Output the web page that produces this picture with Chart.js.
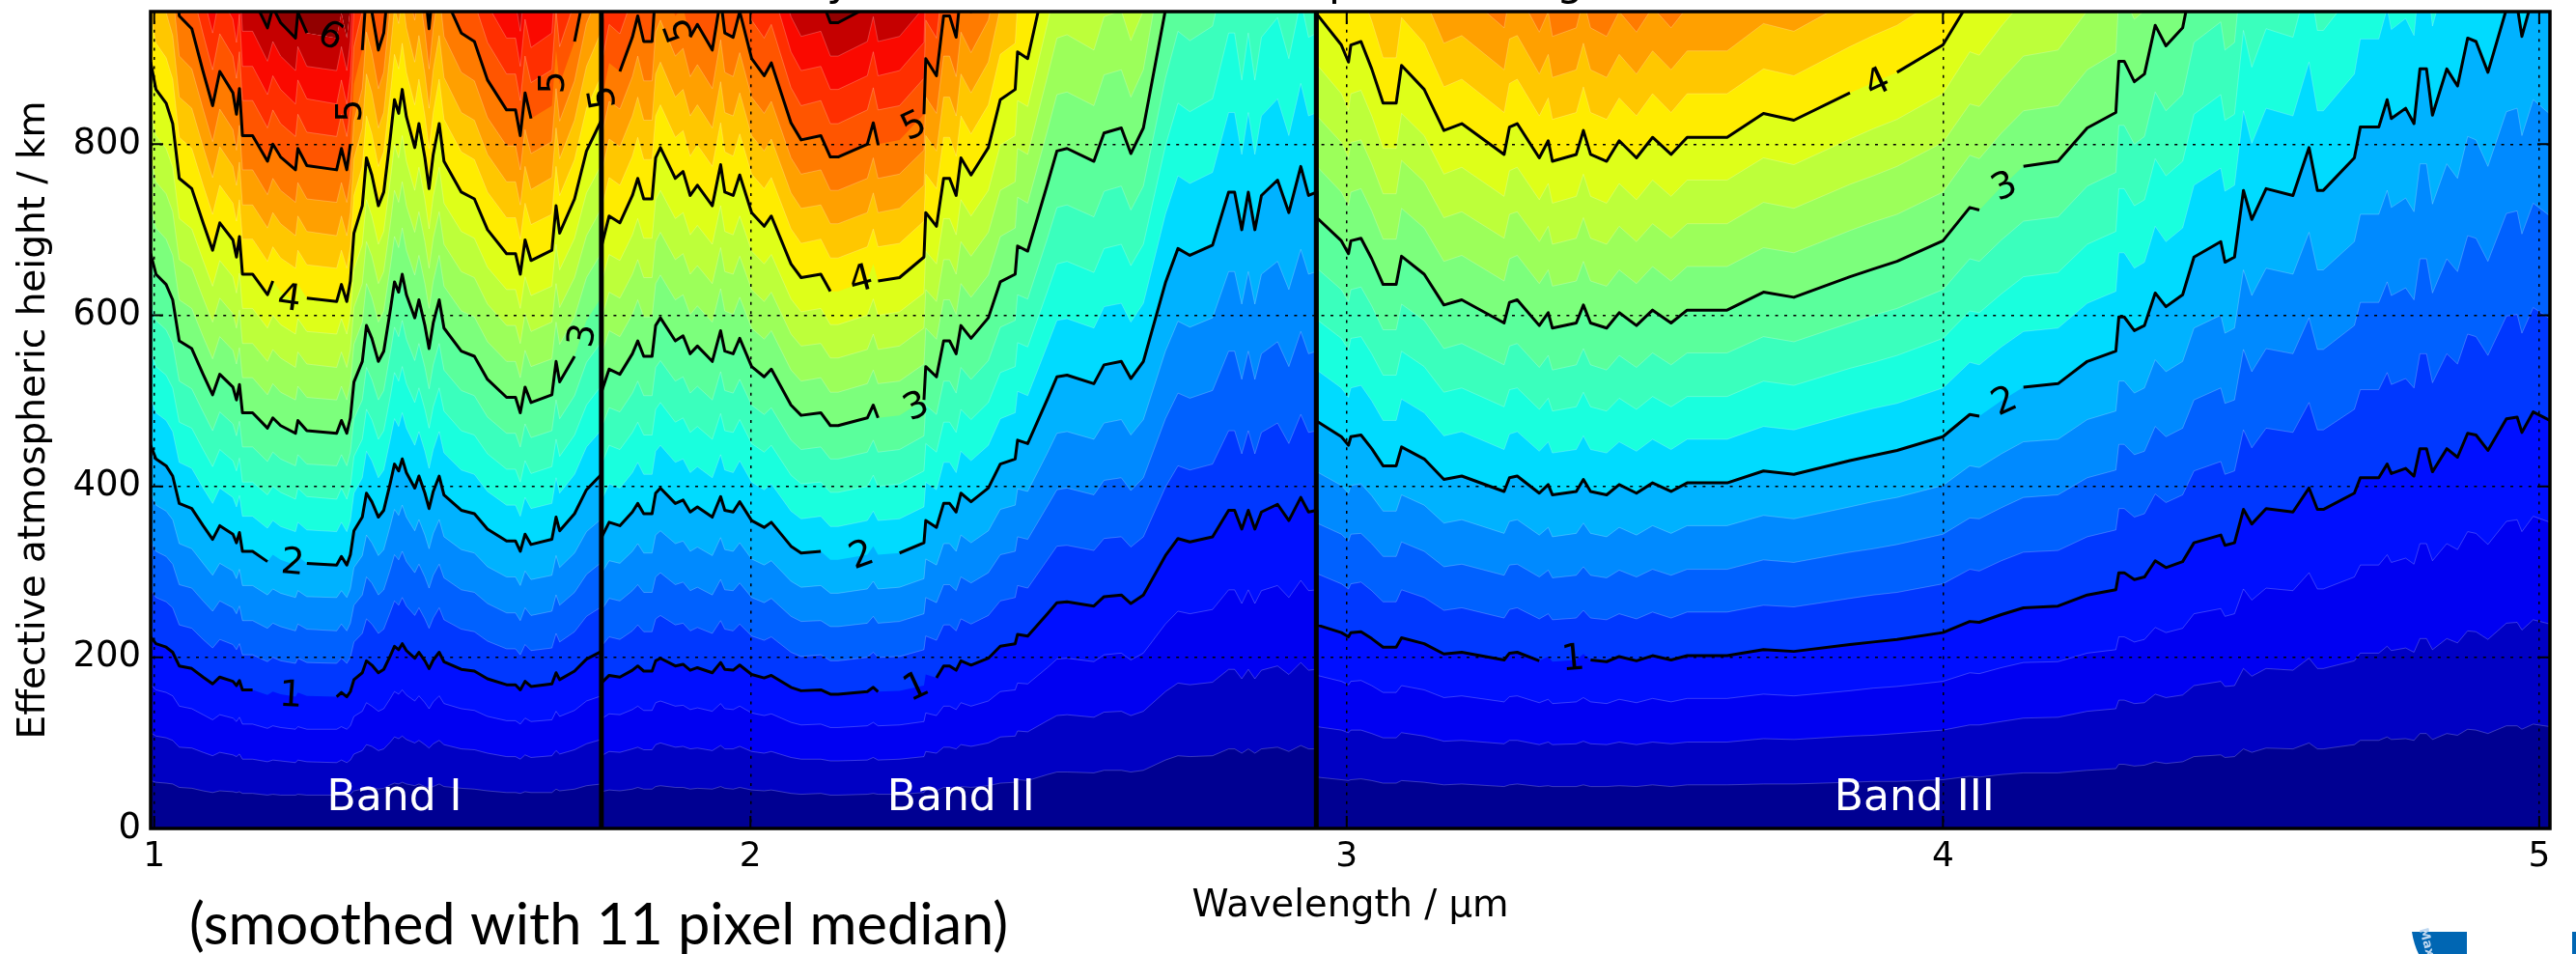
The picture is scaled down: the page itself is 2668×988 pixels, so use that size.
<!DOCTYPE html>
<html>
<head>
<meta charset="utf-8">
<title>Effective atmospheric height</title>
<script src="https://cdn.jsdelivr.net/npm/chart.js@4"></script>
<style>
html, body { margin: 0; padding: 0; background: #fff; }
canvas { display: block; }
</style>
</head>
<body>
<canvas id="grafica" width="2668" height="988"></canvas>
<script>
// wavelength in um, every contour below is read on these same columns
const wavelength = [
0.994,1.003,1.020,1.031,1.042,1.063,1.082,1.098,1.110,1.132,1.138,1.143,1.148,1.165,1.190,1.199,1.212,1.237,1.241,1.256,
1.306,1.314,1.323,1.329,1.335,1.349,1.356,1.365,1.376,1.385,1.396,1.403,1.410,1.416,1.423,1.437,1.444,1.454,1.461,1.468,
1.478,1.486,1.515,1.537,1.559,1.591,1.606,1.614,1.622,1.632,1.667,1.674,1.680,1.705,1.725,1.750,1.750,1.763,1.781,1.802,
1.811,1.821,1.835,1.841,1.849,1.874,1.887,1.899,1.911,1.936,1.950,1.957,1.971,1.982,2.002,2.023,2.035,2.068,2.085,2.118,
2.134,2.147,2.196,2.206,2.214,2.250,2.291,2.294,2.312,2.324,2.334,2.345,2.353,2.370,2.399,2.419,2.444,2.448,2.465,2.498,
2.514,2.531,2.576,2.593,2.622,2.638,2.659,2.696,2.717,2.737,2.775,2.802,2.812,2.824,2.835,2.846,2.857,2.884,2.903,2.923,
2.936,2.950,2.950,2.991,3.003,3.007,3.024,3.042,3.061,3.083,3.092,3.130,3.163,3.193,3.264,3.273,3.286,3.323,3.338,3.345,
3.385,3.397,3.409,3.436,3.457,3.486,3.513,3.544,3.571,3.638,3.699,3.750,3.844,3.883,3.923,4.000,4.045,4.061,4.098,4.135,4.193,4.242,
4.290,4.295,4.304,4.321,4.338,4.356,4.374,4.402,4.421,4.466,4.473,4.489,4.504,4.518,4.542,4.587,4.614,4.628,4.638,4.690,
4.700,4.731,4.745,4.752,4.776,4.790,4.800,4.811,4.821,4.845,4.863,4.880,4.894,4.914,4.945,4.963,4.971,4.990,5.018];

// height in km of each contour, 1200 = off the top of the plot
const h025 = [
56,54,53,52,48,47,44,42,44,43,42,43,41,41,39,40,39,39,40,39,
39,40,39,40,44,46,49,48,46,47,51,53,52,54,52,50,52,49,47,49,
52,49,47,46,44,42,42,41,43,42,42,46,44,46,50,52,43,45,44,46,
48,46,46,49,50,48,48,46,47,46,49,47,46,48,45,44,45,41,40,41,
39,39,40,41,40,40,42,45,44,48,48,46,49,48,50,53,54,57,56,63,
66,66,65,68,68,66,68,80,85,84,85,93,93,88,93,88,93,95,90,97,
93,93,60,57,56,57,58,56,53,53,56,54,51,52,49,51,52,49,50,49,
49,51,49,49,50,49,51,49,51,51,52,52,54,55,55,57,61,60,63,65,65,68,
70,75,75,73,74,78,76,78,84,86,83,84,93,89,94,93,100,93,93,98,
103,103,107,104,105,103,111,111,104,111,109,116,115,111,120,120,116,122,119];
const h050 = [
112,108,106,103,95,94,89,85,89,86,84,87,81,81,78,80,79,77,80,78,
77,80,77,80,87,91,98,96,91,93,101,107,105,108,104,100,103,98,94,99,
103,98,93,92,88,84,84,81,86,83,85,91,87,92,99,104,85,90,89,93,
95,92,92,98,100,95,96,93,94,91,97,93,93,96,90,88,90,83,81,81,
79,79,80,83,80,81,84,90,88,95,95,93,98,96,100,107,108,114,113,126,
132,133,130,136,137,132,137,160,170,168,171,186,186,175,186,175,185,190,180,194,
185,186,119,115,112,115,115,111,106,106,112,108,102,103,99,103,103,98,101,98,
99,102,99,98,101,98,101,99,101,101,105,104,108,109,111,115,121,121,125,129,130,137,
140,150,150,146,147,157,153,156,167,172,166,167,187,178,187,185,199,187,187,196,
205,205,213,208,211,206,222,222,209,222,217,231,230,221,240,241,232,244,239];
const h075 = [
168,162,159,155,143,140,133,127,133,129,125,130,122,122,117,120,118,116,119,116,
116,119,116,120,131,137,147,143,137,140,152,160,157,162,156,149,155,147,140,148,
155,146,140,138,131,126,126,122,129,125,127,137,131,138,149,155,128,134,133,139,
143,138,138,147,149,143,144,139,141,137,146,140,139,143,135,132,134,124,121,122,
118,118,120,124,120,121,125,135,132,143,143,139,147,143,149,160,162,170,169,188,
198,199,195,203,205,197,205,239,254,251,256,279,279,263,279,263,278,284,270,290,
278,279,179,172,168,172,173,167,159,159,167,162,153,155,148,154,155,147,151,146,
148,153,148,146,151,147,152,148,152,152,157,155,161,164,166,172,182,181,188,194,195,205,
209,224,224,218,221,235,229,234,251,257,248,251,280,267,281,278,299,280,280,294,
308,308,320,311,316,309,333,333,313,333,326,347,345,332,359,361,347,365,358];
const h100 = [
224,216,212,206,190,187,177,169,177,172,167,173,162,162,156,160,157,154,159,155,
154,159,154,160,174,182,196,191,182,186,202,213,209,216,208,199,206,196,187,197,
206,195,186,184,175,168,168,162,172,166,169,182,174,184,198,207,170,179,177,185,
190,184,184,196,199,190,192,185,188,182,194,186,185,191,180,176,179,165,161,162,
157,157,160,165,160,161,167,180,176,190,190,185,196,191,199,213,216,227,225,251,
264,265,260,271,273,263,273,319,339,335,341,372,372,350,372,350,370,379,360,387,
370,372,238,229,224,229,230,222,212,212,223,216,204,206,197,205,206,196,201,195,
197,204,197,195,201,196,202,197,202,202,209,207,215,218,221,229,242,241,250,258,260,273,
279,299,299,291,294,313,305,312,334,343,331,334,373,356,374,370,398,373,373,392,
410,410,426,415,421,412,444,444,417,444,434,462,460,442,479,481,463,487,477];
const h125 = [
280,270,265,258,238,234,221,211,221,215,209,216,203,203,195,200,196,193,199,194,
193,199,193,200,218,228,245,239,228,233,253,266,261,270,260,249,258,245,234,246,
258,244,233,230,219,210,210,203,215,208,211,228,218,230,248,259,213,224,221,231,
238,230,230,245,249,238,240,231,235,228,243,233,231,239,225,220,224,206,201,203,
196,196,200,206,200,201,209,225,220,238,238,231,245,239,249,266,270,284,281,314,
330,331,325,339,341,329,341,399,424,419,426,465,465,438,465,438,463,474,450,484,
463,465,298,286,280,286,288,278,265,265,279,270,255,258,246,256,258,245,251,244,
246,255,246,244,251,245,253,246,253,253,261,259,269,273,276,286,303,301,313,323,325,341,
349,374,374,364,368,391,381,390,418,429,414,418,466,445,468,463,498,466,466,490,
513,513,533,519,526,515,555,555,521,555,543,578,575,553,599,601,579,609,596];
const h150 = [
336,324,318,309,285,281,266,254,266,258,251,260,243,243,234,240,236,231,239,233,
231,239,231,240,261,273,294,287,273,279,303,320,314,324,312,299,309,294,281,296,
309,293,279,276,263,252,252,243,258,249,254,273,261,276,297,311,255,269,266,278,
285,276,276,294,299,285,288,278,282,273,291,279,278,287,270,264,269,248,242,243,
236,236,240,248,240,242,251,270,264,285,285,278,294,287,299,320,324,341,338,377,
396,398,390,407,410,395,410,479,509,503,512,558,558,525,558,525,555,569,540,581,
555,558,357,344,336,344,345,333,318,318,335,324,306,309,296,308,309,294,302,293,
296,306,296,293,302,294,303,296,303,303,314,311,323,327,332,344,363,362,375,387,390,410,
419,449,449,437,441,470,458,468,501,515,497,501,560,534,561,555,597,560,560,588,
615,615,639,623,632,618,666,666,626,666,651,693,690,663,719,722,695,731,716];
const h175 = [
392,378,371,361,333,327,310,296,310,301,292,303,284,284,273,280,275,270,278,271,
270,278,270,280,305,319,343,334,319,326,354,373,366,378,364,348,361,343,327,345,
361,341,326,322,306,294,294,284,301,291,296,319,305,322,347,362,298,313,310,324,
333,322,322,343,348,333,336,324,329,319,340,326,324,334,315,308,313,289,282,284,
275,275,280,289,280,282,292,315,308,333,333,324,343,334,348,373,378,397,394,439,
462,464,455,474,478,460,478,558,593,586,597,651,651,613,651,613,648,663,630,677,
648,651,417,401,392,401,403,389,371,371,390,378,357,361,345,359,361,343,352,341,
345,357,345,341,352,343,354,345,354,354,366,362,376,382,387,401,424,422,438,452,455,478,
488,523,523,509,515,548,534,546,585,600,579,585,653,623,655,648,697,653,653,686,
718,718,746,726,737,721,777,777,730,777,760,809,805,774,838,842,810,852,835];
const h200 = [
448,432,424,412,380,374,354,338,354,344,334,346,324,324,312,320,314,308,318,310,
308,318,308,320,348,364,392,382,364,372,404,426,418,432,416,398,412,392,374,394,
412,390,372,368,350,336,336,324,344,332,338,364,348,368,396,414,340,358,354,370,
380,368,368,392,398,380,384,370,376,364,388,372,370,382,360,352,358,330,322,324,
314,314,320,330,320,322,334,360,352,380,380,370,392,382,398,426,432,454,450,502,
528,530,520,542,546,526,546,638,678,670,682,744,744,700,744,700,740,758,720,774,
740,744,476,458,448,458,460,444,424,424,446,432,408,412,394,410,412,392,402,390,
394,408,394,390,402,392,404,394,404,404,418,414,430,436,442,458,484,482,500,516,520,546,
558,598,598,582,588,626,610,624,668,686,662,668,746,712,748,740,796,746,746,784,
820,820,852,830,842,824,888,888,834,888,868,924,920,884,958,962,926,974,954];
const h225 = [
504,486,477,464,428,421,398,380,398,387,376,389,365,365,351,360,353,347,358,349,
347,358,347,360,392,410,441,430,410,419,455,479,470,486,468,448,464,441,421,443,
464,439,419,414,394,378,378,365,387,374,380,410,392,414,446,466,383,403,398,416,
428,414,414,441,448,428,432,416,423,410,437,419,416,430,405,396,403,371,362,365,
353,353,360,371,360,362,376,405,396,428,428,416,441,430,448,479,486,511,506,565,
594,596,585,610,614,592,614,718,763,754,767,837,837,788,837,788,833,853,810,871,
833,837,536,515,504,515,518,500,477,477,502,486,459,464,443,461,464,441,452,439,
443,459,443,439,452,441,455,443,455,455,470,466,484,491,497,515,545,542,563,581,585,614,
628,673,673,655,662,704,686,702,752,772,745,752,839,801,842,833,896,839,839,882,
923,923,959,934,947,927,999,999,938,999,977,1040,1035,995,1078,1082,1042,1096,1073];
const h250 = [
560,540,530,515,475,468,443,423,443,430,418,433,405,405,390,400,393,385,398,388,
385,398,385,400,435,455,490,478,455,465,505,533,523,540,520,498,515,490,468,493,
515,488,465,460,438,420,420,405,430,415,423,455,435,460,495,518,425,448,443,463,
475,460,460,490,498,475,480,463,470,455,485,465,463,478,450,440,448,413,403,405,
393,393,400,413,400,403,418,450,440,475,475,463,490,478,498,533,540,568,563,628,
660,663,650,678,683,658,683,798,848,838,853,930,930,875,930,875,925,948,900,968,
925,930,595,573,560,573,575,555,530,530,558,540,510,515,493,513,515,490,503,488,
493,510,493,488,503,490,505,493,505,505,523,518,538,545,553,573,605,603,625,645,650,683,
698,748,748,728,735,783,763,780,835,858,828,835,933,890,935,925,995,933,933,980,
1025,1025,1065,1038,1053,1030,1110,1110,1043,1110,1085,1155,1150,1105,1198,1200,1158,1200,1193];
const h275 = [
616,594,583,567,523,514,487,465,487,473,459,476,446,446,429,440,432,424,437,426,
424,437,424,440,479,501,539,525,501,512,556,586,575,594,572,547,567,539,514,542,
567,536,512,506,481,462,462,446,473,457,465,501,479,506,545,569,468,492,487,509,
523,506,506,539,547,523,528,509,517,501,534,512,509,525,495,484,492,454,443,446,
432,432,440,454,440,443,459,495,484,523,523,509,539,525,547,586,594,624,619,690,
726,729,715,745,751,723,751,877,932,921,938,1023,1023,963,1023,963,1018,1042,990,1064,
1018,1023,655,630,616,630,633,611,583,583,613,594,561,567,542,564,567,539,553,536,
542,561,542,536,553,539,556,542,556,556,575,569,591,600,608,630,666,663,688,710,715,751,
767,822,822,800,809,861,839,858,919,943,910,919,1026,979,1029,1018,1095,1026,1026,1078,
1128,1128,1172,1141,1158,1133,1200,1200,1147,1200,1194,1200,1200,1200,1200,1200,1200,1200,1200];
const h300 = [
672,648,636,618,570,561,531,507,531,516,501,519,486,486,468,480,471,462,477,465,
462,477,462,480,522,546,588,573,546,558,606,639,627,648,624,597,618,588,561,591,
618,585,558,552,525,504,504,486,516,498,507,546,522,552,594,621,510,537,531,555,
570,552,552,588,597,570,576,555,564,546,582,558,555,573,540,528,537,495,483,486,
471,471,480,495,480,483,501,540,528,570,570,555,588,573,597,639,648,681,675,753,
792,795,780,813,819,789,819,957,1017,1005,1023,1116,1116,1050,1116,1050,1110,1137,1080,1161,
1110,1116,714,687,672,687,690,666,636,636,669,648,612,618,591,615,618,588,603,585,
591,612,591,585,603,588,606,591,606,606,627,621,645,654,663,687,726,723,750,774,780,819,
837,897,897,873,882,939,915,936,1002,1029,993,1002,1119,1068,1122,1110,1194,1119,1119,1176,
1200,1200,1200,1200,1200,1200,1200,1200,1200,1200,1200,1200,1200,1200,1200,1200,1200,1200,1200];
const h325 = [
728,702,689,670,618,608,575,549,575,559,543,562,527,527,507,520,510,501,517,504,
501,517,501,520,566,592,637,621,592,605,657,692,679,702,676,647,670,637,608,640,
670,634,605,598,569,546,546,527,559,540,549,592,566,598,644,673,553,582,575,601,
618,598,598,637,647,618,624,601,611,592,631,605,601,621,585,572,582,536,523,527,
510,510,520,536,520,523,543,585,572,618,618,601,637,621,647,692,702,738,731,816,
858,861,845,881,887,855,887,1037,1102,1089,1108,1200,1200,1138,1200,1138,1200,1200,1170,1200,
1200,1200,774,744,728,744,748,722,689,689,725,702,663,670,640,666,670,637,653,634,
640,663,640,634,653,637,657,640,657,657,679,673,699,709,718,744,787,783,813,839,845,887,
907,972,972,946,956,1017,991,1014,1086,1115,1076,1086,1200,1157,1200,1200,1200,1200,1200,1200,
1200,1200,1200,1200,1200,1200,1200,1200,1200,1200,1200,1200,1200,1200,1200,1200,1200,1200,1200];
const h350 = [
784,756,742,721,665,655,620,592,620,602,585,606,567,567,546,560,550,539,557,543,
539,557,539,560,609,637,686,669,637,651,707,746,732,756,728,697,721,686,655,690,
721,683,651,644,613,588,588,567,602,581,592,637,609,644,693,725,595,627,620,648,
665,644,644,686,697,665,672,648,658,637,679,651,648,669,630,616,627,578,564,567,
550,550,560,578,560,564,585,630,616,665,665,648,686,669,697,746,756,795,788,879,
924,928,910,949,956,921,956,1117,1187,1173,1194,1200,1200,1200,1200,1200,1200,1200,1200,1200,
1200,1200,833,802,784,802,805,777,742,742,781,756,714,721,690,718,721,686,704,683,
690,714,690,683,704,686,707,690,707,707,732,725,753,763,774,802,847,844,875,903,910,956,
977,1047,1047,1019,1029,1096,1068,1092,1169,1200,1159,1169,1200,1200,1200,1200,1200,1200,1200,1200,
1200,1200,1200,1200,1200,1200,1200,1200,1200,1200,1200,1200,1200,1200,1200,1200,1200,1200,1200];
const h375 = [
840,810,795,773,713,701,664,634,664,645,626,649,608,608,585,600,589,578,596,581,
578,596,578,600,653,683,735,716,683,698,758,799,784,810,780,746,773,735,701,739,
773,731,698,690,656,630,630,608,645,623,634,683,653,690,743,776,638,671,664,694,
713,690,690,735,746,713,720,694,705,683,728,698,694,716,675,660,671,619,604,608,
589,589,600,619,600,604,626,675,660,713,713,694,735,716,746,799,810,851,844,941,
990,994,975,1016,1024,986,1024,1196,1200,1200,1200,1200,1200,1200,1200,1200,1200,1200,1200,1200,
1200,1200,893,859,840,859,863,833,795,795,836,810,765,773,739,769,773,735,754,731,
739,765,739,731,754,735,758,739,758,758,784,776,806,818,829,859,908,904,938,968,975,1024,
1046,1121,1121,1091,1103,1174,1144,1170,1200,1200,1200,1200,1200,1200,1200,1200,1200,1200,1200,1200,
1200,1200,1200,1200,1200,1200,1200,1200,1200,1200,1200,1200,1200,1200,1200,1200,1200,1200,1200];
const h400 = [
896,864,848,824,760,748,708,676,708,688,668,692,648,648,624,640,628,616,636,620,
616,636,616,640,696,728,784,764,728,744,808,852,836,864,832,796,824,784,748,788,
824,780,744,736,700,672,672,648,688,664,676,728,696,736,792,828,680,716,708,740,
760,736,736,784,796,760,768,740,752,728,776,744,740,764,720,704,716,660,644,648,
628,628,640,660,640,644,668,720,704,760,760,740,784,764,796,852,864,908,900,1004,
1056,1060,1040,1084,1092,1052,1092,1200,1200,1200,1200,1200,1200,1200,1200,1200,1200,1200,1200,1200,
1200,1200,952,916,896,916,920,888,848,848,892,864,816,824,788,820,824,784,804,780,
788,816,788,780,804,784,808,788,808,808,836,828,860,872,884,916,968,964,1000,1032,1040,1092,
1116,1196,1196,1164,1176,1200,1200,1200,1200,1200,1200,1200,1200,1200,1200,1200,1200,1200,1200,1200,
1200,1200,1200,1200,1200,1200,1200,1200,1200,1200,1200,1200,1200,1200,1200,1200,1200,1200,1200];
const h425 = [
952,918,901,876,808,795,752,718,752,731,710,735,689,689,663,680,667,655,676,659,
655,676,655,680,740,774,833,812,774,791,859,905,888,918,884,846,876,833,795,837,
876,829,791,782,744,714,714,689,731,706,718,774,740,782,842,880,723,761,752,786,
808,782,782,833,846,808,816,786,799,774,825,791,786,812,765,748,761,701,684,689,
667,667,680,701,680,684,710,765,748,808,808,786,833,812,846,905,918,965,956,1067,
1122,1126,1105,1152,1160,1118,1160,1200,1200,1200,1200,1200,1200,1200,1200,1200,1200,1200,1200,1200,
1200,1200,1012,973,952,973,978,944,901,901,948,918,867,876,837,871,876,833,854,829,
837,867,837,829,854,833,859,837,859,859,888,880,914,927,939,973,1029,1024,1063,1097,1105,1160,
1186,1200,1200,1200,1200,1200,1200,1200,1200,1200,1200,1200,1200,1200,1200,1200,1200,1200,1200,1200,
1200,1200,1200,1200,1200,1200,1200,1200,1200,1200,1200,1200,1200,1200,1200,1200,1200,1200,1200];
const h450 = [
1008,972,954,927,855,842,797,761,797,774,752,779,729,729,702,720,707,693,716,698,
693,716,693,720,783,819,882,860,819,837,909,959,941,972,936,896,927,882,842,887,
927,878,837,828,788,756,756,729,774,747,761,819,783,828,891,932,765,806,797,833,
855,828,828,882,896,855,864,833,846,819,873,837,833,860,810,792,806,743,725,729,
707,707,720,743,720,725,752,810,792,855,855,833,882,860,896,959,972,1022,1013,1130,
1188,1193,1170,1200,1200,1200,1200,1200,1200,1200,1200,1200,1200,1200,1200,1200,1200,1200,1200,1200,
1200,1200,1071,1031,1008,1031,1035,999,954,954,1004,972,918,927,887,923,927,882,905,878,
887,918,887,878,905,882,909,887,909,909,941,932,968,981,995,1031,1089,1085,1125,1161,1170,1200,
1200,1200,1200,1200,1200,1200,1200,1200,1200,1200,1200,1200,1200,1200,1200,1200,1200,1200,1200,1200,
1200,1200,1200,1200,1200,1200,1200,1200,1200,1200,1200,1200,1200,1200,1200,1200,1200,1200,1200];
const h475 = [
1064,1026,1007,979,903,888,841,803,841,817,793,822,770,770,741,760,746,732,755,736,
732,755,732,760,827,865,931,907,865,884,960,1012,993,1026,988,945,979,931,888,936,
979,926,884,874,831,798,798,770,817,789,803,865,827,874,941,983,808,850,841,879,
903,874,874,931,945,903,912,879,893,865,922,884,879,907,855,836,850,784,765,770,
746,746,760,784,760,765,793,855,836,903,903,879,931,907,945,1012,1026,1078,1069,1192,
1200,1200,1200,1200,1200,1200,1200,1200,1200,1200,1200,1200,1200,1200,1200,1200,1200,1200,1200,1200,
1200,1200,1131,1088,1064,1088,1093,1055,1007,1007,1059,1026,969,979,936,974,979,931,955,926,
936,969,936,926,955,931,960,936,960,960,993,983,1021,1036,1050,1088,1150,1145,1188,1200,1200,1200,
1200,1200,1200,1200,1200,1200,1200,1200,1200,1200,1200,1200,1200,1200,1200,1200,1200,1200,1200,1200,
1200,1200,1200,1200,1200,1200,1200,1200,1200,1200,1200,1200,1200,1200,1200,1200,1200,1200,1200];
const h500 = [
1120,1080,1060,1030,950,935,885,845,885,860,835,865,810,810,780,800,785,770,795,775,
770,795,770,800,870,910,980,955,910,930,1010,1065,1045,1080,1040,995,1030,980,935,985,
1030,975,930,920,875,840,840,810,860,830,845,910,870,920,990,1035,850,895,885,925,
950,920,920,980,995,950,960,925,940,910,970,930,925,955,900,880,895,825,805,810,
785,785,800,825,800,805,835,900,880,950,950,925,980,955,995,1065,1080,1135,1125,1200,
1200,1200,1200,1200,1200,1200,1200,1200,1200,1200,1200,1200,1200,1200,1200,1200,1200,1200,1200,1200,
1200,1200,1190,1145,1120,1145,1150,1110,1060,1060,1115,1080,1020,1030,985,1025,1030,980,1005,975,
985,1020,985,975,1005,980,1010,985,1010,1010,1045,1035,1075,1090,1105,1145,1200,1200,1200,1200,1200,1200,
1200,1200,1200,1200,1200,1200,1200,1200,1200,1200,1200,1200,1200,1200,1200,1200,1200,1200,1200,1200,
1200,1200,1200,1200,1200,1200,1200,1200,1200,1200,1200,1200,1200,1200,1200,1200,1200,1200,1200];
const h525 = [
1176,1134,1113,1082,998,982,929,887,929,903,877,908,851,851,819,840,824,809,835,814,
809,835,809,840,914,956,1029,1003,956,977,1061,1118,1097,1134,1092,1045,1082,1029,982,1034,
1082,1024,977,966,919,882,882,851,903,872,887,956,914,966,1040,1087,893,940,929,971,
998,966,966,1029,1045,998,1008,971,987,956,1019,977,971,1003,945,924,940,866,845,851,
824,824,840,866,840,845,877,945,924,998,998,971,1029,1003,1045,1118,1134,1192,1181,1200,
1200,1200,1200,1200,1200,1200,1200,1200,1200,1200,1200,1200,1200,1200,1200,1200,1200,1200,1200,1200,
1200,1200,1200,1200,1176,1200,1200,1166,1113,1113,1171,1134,1071,1082,1034,1076,1082,1029,1055,1024,
1034,1071,1034,1024,1055,1029,1061,1034,1061,1061,1097,1087,1129,1145,1160,1200,1200,1200,1200,1200,1200,1200,
1200,1200,1200,1200,1200,1200,1200,1200,1200,1200,1200,1200,1200,1200,1200,1200,1200,1200,1200,1200,
1200,1200,1200,1200,1200,1200,1200,1200,1200,1200,1200,1200,1200,1200,1200,1200,1200,1200,1200];
const h550 = [
1200,1188,1166,1133,1045,1029,974,930,974,946,919,952,891,891,858,880,864,847,875,853,
847,875,847,880,957,1001,1078,1051,1001,1023,1111,1172,1150,1188,1144,1095,1133,1078,1029,1084,
1133,1073,1023,1012,963,924,924,891,946,913,930,1001,957,1012,1089,1139,935,985,974,1018,
1045,1012,1012,1078,1095,1045,1056,1018,1034,1001,1067,1023,1018,1051,990,968,985,908,886,891,
864,864,880,908,880,886,919,990,968,1045,1045,1018,1078,1051,1095,1172,1188,1200,1200,1200,
1200,1200,1200,1200,1200,1200,1200,1200,1200,1200,1200,1200,1200,1200,1200,1200,1200,1200,1200,1200,
1200,1200,1200,1200,1200,1200,1200,1200,1166,1166,1200,1188,1122,1133,1084,1128,1133,1078,1106,1073,
1084,1122,1084,1073,1106,1078,1111,1084,1111,1111,1150,1139,1183,1199,1200,1200,1200,1200,1200,1200,1200,1200,
1200,1200,1200,1200,1200,1200,1200,1200,1200,1200,1200,1200,1200,1200,1200,1200,1200,1200,1200,1200,
1200,1200,1200,1200,1200,1200,1200,1200,1200,1200,1200,1200,1200,1200,1200,1200,1200,1200,1200];
const h575 = [
1200,1200,1200,1185,1093,1075,1018,972,1018,989,960,995,932,932,897,920,903,886,914,891,
886,914,886,920,1001,1047,1127,1098,1047,1070,1162,1200,1200,1200,1196,1144,1185,1127,1075,1133,
1185,1121,1070,1058,1006,966,966,932,989,955,972,1047,1001,1058,1139,1190,978,1029,1018,1064,
1093,1058,1058,1127,1144,1093,1104,1064,1081,1047,1116,1070,1064,1098,1035,1012,1029,949,926,932,
903,903,920,949,920,926,960,1035,1012,1093,1093,1064,1127,1098,1144,1200,1200,1200,1200,1200,
1200,1200,1200,1200,1200,1200,1200,1200,1200,1200,1200,1200,1200,1200,1200,1200,1200,1200,1200,1200,
1200,1200,1200,1200,1200,1200,1200,1200,1200,1200,1200,1200,1173,1185,1133,1179,1185,1127,1156,1121,
1133,1173,1133,1121,1156,1127,1162,1133,1162,1162,1200,1190,1200,1200,1200,1200,1200,1200,1200,1200,1200,1200,
1200,1200,1200,1200,1200,1200,1200,1200,1200,1200,1200,1200,1200,1200,1200,1200,1200,1200,1200,1200,
1200,1200,1200,1200,1200,1200,1200,1200,1200,1200,1200,1200,1200,1200,1200,1200,1200,1200,1200];
const h600 = [
1200,1200,1200,1200,1140,1122,1062,1014,1062,1032,1002,1038,972,972,936,960,942,924,954,930,
924,954,924,960,1044,1092,1176,1146,1092,1116,1200,1200,1200,1200,1200,1194,1200,1176,1122,1182,
1200,1170,1116,1104,1050,1008,1008,972,1032,996,1014,1092,1044,1104,1188,1200,1020,1074,1062,1110,
1140,1104,1104,1176,1194,1140,1152,1110,1128,1092,1164,1116,1110,1146,1080,1056,1074,990,966,972,
942,942,960,990,960,966,1002,1080,1056,1140,1140,1110,1176,1146,1194,1200,1200,1200,1200,1200,
1200,1200,1200,1200,1200,1200,1200,1200,1200,1200,1200,1200,1200,1200,1200,1200,1200,1200,1200,1200,
1200,1200,1200,1200,1200,1200,1200,1200,1200,1200,1200,1200,1200,1200,1200,1182,1200,1200,1176,1200,
1182,1200,1182,1170,1200,1176,1200,1182,1200,1200,1200,1200,1200,1200,1200,1200,1200,1200,1200,1200,1200,1200,
1200,1200,1200,1200,1200,1200,1200,1200,1200,1200,1200,1200,1200,1200,1200,1200,1200,1200,1200,1200,
1200,1200,1200,1200,1200,1200,1200,1200,1200,1200,1200,1200,1200,1200,1200,1200,1200,1200,1200];

const niveles = [h025,h050,h075,h100,h125,h150,h175,h200,h225,h250,h275,h300,h325,h350,h375,h400,h425,h450,h475,h500,h525,h550,h575,h600];

// colour of the layer under each contour, last one is the layer over h600
const coloresCapa = [
'rgb(0,0,146)','rgb(0,0,196)','rgb(0,0,242)','rgb(0,15,255)','rgb(0,56,255)','rgb(0,97,255)','rgb(0,138,255)','rgb(0,178,255)',
'rgb(0,219,255)','rgb(25,255,222)','rgb(58,255,189)','rgb(90,255,156)','rgb(124,255,124)','rgb(156,255,90)','rgb(189,255,58)','rgb(222,255,25)',
'rgb(255,236,0)','rgb(255,199,0)','rgb(255,160,0)','rgb(255,123,0)','rgb(255,85,0)','rgb(255,47,0)','rgb(250,9,0)','rgb(197,0,0)','rgb(146,0,0)'];

const ticksX = [1,2,3,4,5];
const ticksY = [0,200,400,600,800];
const bordesBanda = [1.75,2.949];

// parts of the black contours left open for the inline labels
const huecos100 = [[1.183,1.266],[2.221,2.304],[3.327,3.409]];
const huecos200 = [[1.195,1.255],[2.132,2.217],[4.09,4.11]];
const huecos300 = [[1.707,1.743],[2.232,2.291],[4.09,4.11]];
const huecos400 = [[1.201,1.244],[2.134,2.209],[3.87,3.89]];
const huecos500 = [[1.329,1.340],[1.649,1.686],[1.751,1.770],[1.870,1.895],[2.239,2.291]];
const huecos600 = [[1.262,1.327]];

const textoEtiqueta = ['6','5','4','3','5','5','5','2','1','5','4','3','2','1','4','3','2','1'];
const lambdaEtiqueta = [1.295,1.331,1.226,1.721,1.671,1.755,1.883,1.232,1.229,2.275,2.186,2.279,2.187,2.279,3.891,4.104,4.104,3.380];
const alturaEtiqueta = [925,839,618,576,872,855,934,309,154,820,640,492,318,164,870,749,498,197];
const anguloEtiqueta = [25,-90,8,-80,-90,-100,-110,5,3,-25,-15,-25,-20,-25,-25,-25,-25,-5];

const textoBanda = ['Band I','Band II','Band III'];
const lambdaBanda = [1.403,2.353,3.952];

function puntos(arr) {
    return wavelength.map((x, i) => ({ x: x, y: arr[i] }));
}

function conHuecos(arr, huecos) {
    return wavelength.map((x, i) => {
        let dentro = huecos.some(h => x > h[0] && x < h[1]);
        return { x: x, y: dentro ? null : arr[i] };
    });
}

const datasets = [];

// separators between the three detector bands
bordesBanda.forEach(b => {
    datasets.push({
        data: [{ x: b, y: 0 }, { x: b, y: 955 }],
        borderColor: '#000', borderWidth: 5, pointRadius: 0, fill: false, order: 0
    });
});

// black labelled contours
[[h100, huecos100], [h200, huecos200], [h300, huecos300], [h400, huecos400], [h500, huecos500], [h600, huecos600]].forEach(par => {
    datasets.push({
        data: conHuecos(par[0], par[1]),
        borderColor: '#000', borderWidth: 3, pointRadius: 0, fill: false,
        spanGaps: false, borderJoinStyle: 'round', order: 1
    });
});

// filled layers, painted from the top one down
niveles.forEach((arr, i) => {
    datasets.push({
        data: puntos(arr),
        borderColor: (i + 1) % 4 == 0 ? 'rgba(0,0,0,0)' : 'rgba(255,255,255,0.22)',
        borderWidth: 1,
        backgroundColor: coloresCapa[i],
        pointRadius: 0,
        fill: 'origin',
        order: 10 + i
    });
});
datasets.push({
    data: puntos(h600),
    borderWidth: 0,
    backgroundColor: coloresCapa[24],
    pointRadius: 0,
    fill: 'end',
    order: 50
});

const adornos = {
    id: 'adornos',
    afterDraw(chart) {
        const ctx = chart.ctx;
        const a = chart.chartArea;
        const sx = chart.scales.x;
        const sy = chart.scales.y;

        // inline contour labels
        ctx.fillStyle = '#000';
        ctx.textAlign = 'center';
        ctx.textBaseline = 'middle';
        ctx.font = '38px "DejaVu Sans"';
        textoEtiqueta.forEach((t, i) => {
            ctx.save();
            ctx.translate(sx.getPixelForValue(lambdaEtiqueta[i]), sy.getPixelForValue(alturaEtiqueta[i]));
            ctx.rotate(anguloEtiqueta[i] * Math.PI / 180);
            ctx.fillText(t, 0, 0);
            ctx.restore();
        });

        // band names
        ctx.fillStyle = '#fff';
        ctx.textBaseline = 'alphabetic';
        ctx.font = '44px "DejaVu Sans"';
        textoBanda.forEach((t, i) => {
            ctx.fillText(t, sx.getPixelForValue(lambdaBanda[i]), sy.getPixelForValue(21));
        });

        // frame and inward ticks
        ctx.strokeStyle = '#000';
        ctx.lineWidth = 3.5;
        ctx.strokeRect(a.left, a.top, a.right - a.left, a.bottom - a.top);
        ctx.lineWidth = 2;
        ctx.beginPath();
        ticksX.forEach(v => {
            let p = sx.getPixelForValue(v);
            ctx.moveTo(p, a.bottom); ctx.lineTo(p, a.bottom - 13);
            ctx.moveTo(p, a.top); ctx.lineTo(p, a.top + 13);
        });
        ticksY.forEach(v => {
            let p = sy.getPixelForValue(v);
            ctx.moveTo(a.left, p); ctx.lineTo(a.left + 13, p);
            ctx.moveTo(a.right, p); ctx.lineTo(a.right - 13, p);
        });
        ctx.stroke();

        // what is left of the cropped title and note
        ctx.fillStyle = '#000';
        ctx.textAlign = 'center';
        ctx.font = '44px "DejaVu Sans"';
        ctx.fillText('y', 869, -5);
        ctx.fillText('p', 1390, -5);
        ctx.fillText('g', 1626, -5);

        ctx.textAlign = 'left';
        ctx.font = '59.5px Lato';
        ctx.fillText('(smoothed with 11 pixel median)', 196, 978);

        // logo at the bottom edge
        ctx.fillStyle = 'rgb(0,102,179)';
        ctx.beginPath();
        ctx.moveTo(2498, 965);
        ctx.lineTo(2555, 965);
        ctx.lineTo(2555, 988);
        ctx.lineTo(2505, 988);
        ctx.quadraticCurveTo(2500, 978, 2498, 965);
        ctx.fill();
        ctx.fillRect(2664, 965, 4, 23);
        ctx.save();
        ctx.translate(2513, 976);
        ctx.rotate(75 * Math.PI / 180);
        ctx.fillStyle = 'rgb(190,215,240)';
        ctx.textAlign = 'center';
        ctx.textBaseline = 'middle';
        ctx.font = 'bold 13px "DejaVu Sans"';
        ctx.fillText('Max', 0, 0);
        ctx.restore();
    }
};

new Chart('grafica', {
    type: 'line',
    data: { datasets: datasets },
    plugins: [adornos],
    options: {
        responsive: false,
        animation: false,
        devicePixelRatio: 1,
        layout: { padding: { top: 12, right: 27, left: 0, bottom: 0 } },
        plugins: { legend: { display: false }, tooltip: { enabled: false }, title: { display: false } },
        elements: { line: { tension: 0 } },
        scales: {
            x: {
                type: 'linear',
                min: 0.994,
                max: 5.018,
                afterBuildTicks: s => { s.ticks = ticksX.map(v => ({ value: v })); },
                afterFit: s => { s.height = 130; s.paddingLeft = 0; s.paddingRight = 0; },
                grid: { z: 1, color: '#000', lineWidth: 1.5, drawTicks: false },
                border: { display: false, dash: [3, 6.4] },
                ticks: { color: '#000', font: { family: 'DejaVu Sans', size: 36 }, padding: 8, maxRotation: 0, callback: v => String(v) },
                title: { display: true, text: 'Wavelength / μm', color: '#000', font: { family: 'DejaVu Sans', size: 38.5 }, padding: { top: 0, bottom: 26 } }
            },
            y: {
                min: 0,
                max: 955,
                afterBuildTicks: s => { s.ticks = ticksY.map(v => ({ value: v })); },
                afterFit: s => { s.width = 156; s.paddingTop = 0; s.paddingBottom = 0; },
                grid: { z: 1, color: '#000', lineWidth: 1.5, drawTicks: false },
                border: { display: false, dash: [3, 6.4] },
                ticks: { color: '#000', font: { family: 'DejaVu Sans', size: 37 }, padding: 10, callback: v => String(v) },
                title: { display: true, text: 'Effective atmospheric height / km', color: '#000', font: { family: 'DejaVu Sans', size: 39 }, padding: { top: 12, bottom: 0 } }
            }
        }
    }
});
</script>
</body>
</html>
